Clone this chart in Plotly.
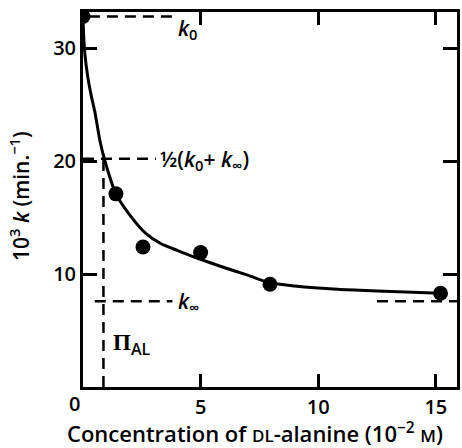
import plotly.graph_objects as go

# Measured rate constants vs. DL-alanine concentration
conc = [0.0, 1.4, 2.55, 5.0, 7.95, 15.2]
rate = [32.8, 17.1, 12.4, 11.9, 9.1, 8.3]

# Smooth fitted curve
curve_x = [0.0, 0.03, 0.08, 0.2, 0.35, 0.5, 0.72, 0.92, 1.4, 2.0, 2.67, 3.3, 4.0, 4.49,
           5.0, 5.9, 7.0, 7.94, 9.0, 10.82, 12.5, 15.2]
curve_y = [32.8, 31.0, 29.5, 27.5, 25.8, 24.4, 21.8, 20.1, 17.1, 15.2, 13.6, 12.7, 12.1, 11.7,
           11.3, 10.65, 9.9, 9.23, 8.95, 8.65, 8.5, 8.3]

# Reference levels
k0 = 32.8
k_inf = 7.6
k_half = 20.2
pi_al = 0.87

xticks = [0, 5, 10, 15]
yticks = [10, 20, 30]

FONT = "Open Sans"
INK = "black"
W = 600
dash_style = "11px,7px"

fig = go.Figure()

def dashed(xs, ys):
    fig.add_trace(go.Scatter(x=xs, y=ys, mode="lines",
                             line=dict(color=INK, width=2.5, dash=dash_style),
                             hoverinfo="skip", showlegend=False))

dashed([0.25, 3.9], [k0, k0])
dashed([0.0, 3.1], [k_half, k_half])
dashed([pi_al, pi_al], [0, k_half])
dashed([0.5, 3.8], [k_inf, k_inf])
dashed([12.5, 15.9], [k_inf, k_inf])

fig.add_trace(go.Scatter(x=curve_x, y=curve_y, mode="lines",
                         line=dict(color=INK, width=3, shape="spline", smoothing=0.7),
                         hoverinfo="skip", showlegend=False))
fig.add_trace(go.Scatter(x=conc, y=rate, mode="markers",
                         marker=dict(color=INK, size=15),
                         showlegend=False))

ann_font = dict(family=FONT, size=21, color=INK, weight=W)
fig.add_annotation(x=3.95, y=31.7, xref="x", yref="y", text="<i>k</i><sub>0</sub>",
                   showarrow=False, xanchor="left", yanchor="middle", font=ann_font)
fig.add_annotation(x=3.2, y=20.1, xref="x", yref="y",
                   text="½(<i>k</i><sub>0</sub>+ <i>k</i><sub>∞</sub>)",
                   showarrow=False, xanchor="left", yanchor="middle", font=ann_font)
fig.add_annotation(x=3.95, y=7.5, xref="x", yref="y", text="<i>k</i><sub>∞</sub>",
                   showarrow=False, xanchor="left", yanchor="middle", font=ann_font)
fig.add_annotation(x=1.2, y=3.7, xref="x", yref="y",
                   text="<span style='font-family:Liberation Serif'>Π</span><sub>AL</sub>",
                   showarrow=False, xanchor="left", yanchor="middle",
                   font=dict(family=FONT, size=23, color=INK, weight=W))

# Origin label sits just left of the corner
fig.add_annotation(x=0, y=0, xref="x", yref="y", text=str(xticks[0]),
                   showarrow=False, xanchor="center", yanchor="top",
                   xshift=-9, yshift=-1,
                   font=dict(family=FONT, size=20, color=INK, weight=W))

# Axis titles
fig.add_annotation(x=0.46, y=-0.122, xref="paper", yref="paper",
                   text="Concentration of <span style='font-size:17px'>DL</span>-alanine (10<sup>−2</sup> <span style='font-size:17px'>M</span>)",
                   showarrow=False, xanchor="center", yanchor="middle",
                   font=dict(family=FONT, size=22, color=INK, weight=W))
fig.add_annotation(x=-0.168, y=0.51, xref="paper", yref="paper",
                   text="10<sup>3</sup> <i>k</i> (min.<sup>−1</sup>)", textangle=-90,
                   showarrow=False, xanchor="center", yanchor="middle",
                   font=dict(family=FONT, size=21, color=INK, weight=W))

fig.update_layout(
    width=462, height=448,
    margin=dict(l=83, r=2, t=12, b=61),
    paper_bgcolor="white", plot_bgcolor="white",
    font=dict(family=FONT, size=20, color=INK),
)
fig.update_xaxes(range=[0, 15.9], tickvals=xticks,
                 ticktext=[""] + [str(v) for v in xticks[1:]],
                 ticks="inside", ticklen=13, tickwidth=2.5, tickcolor=INK,
                 showline=True, linewidth=3, linecolor=INK, mirror="ticks",
                 showgrid=False, zeroline=False,
                 tickfont=dict(family=FONT, size=20, color=INK, weight=W))
fig.update_yaxes(range=[0, 33.2], tickvals=yticks, ticktext=[str(v) for v in yticks],
                 ticks="inside", ticklen=14, tickwidth=2.5, tickcolor=INK,
                 showline=True, linewidth=3, linecolor=INK, mirror="ticks",
                 showgrid=False, zeroline=False,
                 tickfont=dict(family=FONT, size=20, color=INK, weight=W))

fig.write_html("out.html")
